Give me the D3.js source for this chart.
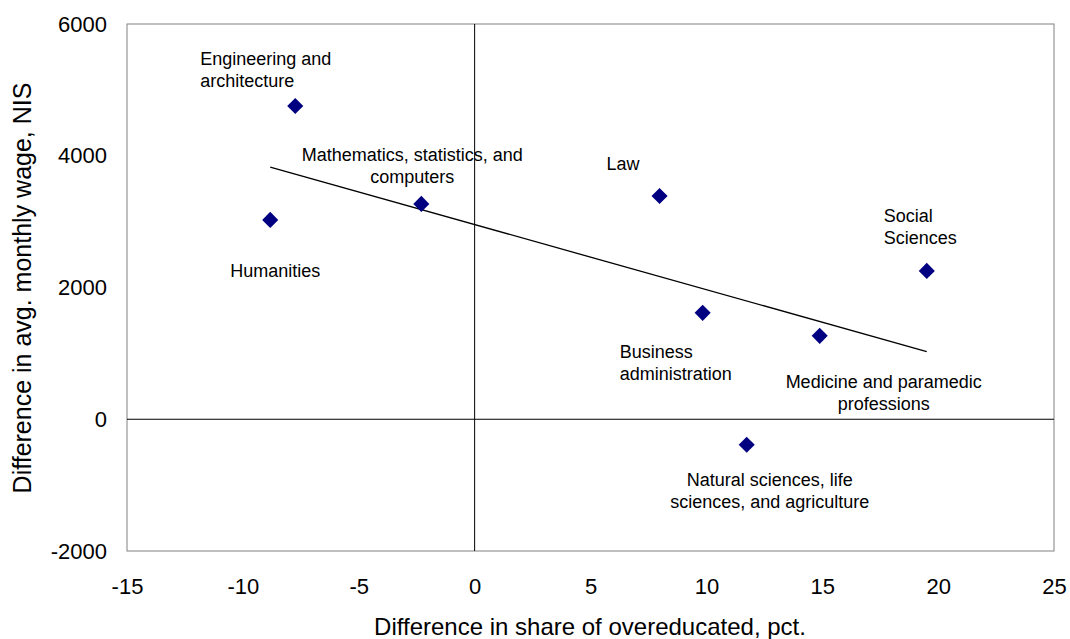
<!DOCTYPE html>
<html>
<head>
<meta charset="utf-8">
<script src="https://cdn.jsdelivr.net/npm/d3@7"></script>
<style>
    body { margin: 0; background: #fff; }
    text { font-family: "Liberation Sans", Arial, sans-serif; fill: #000; }
</style>
</head>
<body>
<div id="chart"></div>
<script>
// Fields of study
const fields = [
    "Engineering and|architecture",
    "Humanities",
    "Mathematics, statistics, and|computers",
    "Law",
    "Business|administration",
    "Medicine and paramedic|professions",
    "Social|Sciences",
    "Natural sciences, life|sciences, and agriculture"
];
// Difference in share of overeducated, pct.
const overeducated = [-7.74, -8.82, -2.30, 7.98, 9.84, 14.89, 19.51, 11.74];
// Difference in avg. monthly wage, NIS
const wageDiff = [4756, 3026, 3269, 3390, 1615, 1266, 2252, -388];

const xTicks = [-15, -10, -5, 0, 5, 10, 15, 20, 25];
const yTicks = [-2000, 0, 2000, 4000, 6000];

// label placement relative to the point: [dx, dy, anchor]
const labelPos = [
    [-95, -47, "start"],
    [5, 51, "middle"],
    [-9, -49, "middle"],
    [-53, -32, "start"],
    [-83, 39, "start"],
    [64, 46, "middle"],
    [-43, -55, "start"],
    [23, 35, "middle"]
];

const W = 1070, H = 639;
const margin = {top: 24, right: 16, bottom: 88, left: 127};
const width = W - margin.left - margin.right;
const height = H - margin.top - margin.bottom;

const svg = d3.select("#chart").append("svg")
    .attr("width", W)
    .attr("height", H);
const g = svg.append("g")
    .attr("transform", `translate(${margin.left},${margin.top})`);

const x = d3.scaleLinear().domain([-15, 25]).range([0, width]);
const y = d3.scaleLinear().domain([-2000, 6000]).range([height, 0]);

// frame
g.append("rect")
    .attr("width", width)
    .attr("height", height)
    .attr("fill", "none")
    .attr("stroke", "#808080")
    .attr("stroke-width", 1);

// zero lines
g.append("line")
    .attr("x1", x(0)).attr("x2", x(0))
    .attr("y1", 0).attr("y2", height)
    .attr("stroke", "#000").attr("stroke-width", 1);
g.append("line")
    .attr("x1", 0).attr("x2", width)
    .attr("y1", y(0)).attr("y2", y(0))
    .attr("stroke", "#000").attr("stroke-width", 1);

// axes (labels only, no tick marks)
const fmt = d => String(d);
const xAxis = d3.axisBottom(x).tickValues(xTicks).tickFormat(fmt).tickSize(0).tickPadding(27);
const yAxis = d3.axisLeft(y).tickValues(yTicks).tickFormat(fmt).tickSize(0).tickPadding(20);
g.append("g")
    .attr("transform", `translate(0,${height})`)
    .call(xAxis)
    .call(a => a.select(".domain").remove())
    .selectAll("text").style("font-size", "22px").attr("font-family", null);
g.append("g")
    .call(yAxis)
    .call(a => a.select(".domain").remove())
    .selectAll("text").style("font-size", "22px").attr("font-family", null);

// axis titles
svg.append("text")
    .attr("x", 590)
    .attr("y", 635)
    .attr("text-anchor", "middle")
    .style("font-size", "24px")
    .text("Difference in share of overeducated, pct.");
svg.append("text")
    .attr("transform", `translate(31,288) rotate(-90)`)
    .attr("text-anchor", "middle")
    .style("font-size", "25px")
    .text("Difference in avg. monthly wage, NIS");

// linear trend (least squares)
const n = overeducated.length;
const mx = d3.mean(overeducated), my = d3.mean(wageDiff);
let sxy = 0, sxx = 0;
for (let i = 0; i < n; i++) {
    sxy += (overeducated[i] - mx) * (wageDiff[i] - my);
    sxx += (overeducated[i] - mx) ** 2;
}
const slope = sxy / sxx, intercept = my - slope * mx;
const [xMin, xMax] = d3.extent(overeducated);
g.append("line")
    .attr("x1", x(xMin)).attr("y1", y(intercept + slope * xMin))
    .attr("x2", x(xMax)).attr("y2", y(intercept + slope * xMax))
    .attr("stroke", "#000").attr("stroke-width", 1.3);

// points
const points = fields.map((f, i) => ({field: f, x: overeducated[i], y: wageDiff[i], pos: labelPos[i]}));
g.selectAll(".pt")
    .data(points)
    .enter()
    .append("path")
    .attr("class", "pt")
    .attr("d", d3.symbol(d3.symbolDiamond2, 165))
    .attr("transform", d => `translate(${x(d.x)},${y(d.y)})`)
    .attr("fill", "#000080");

// labels
const labels = g.selectAll(".lbl")
    .data(points)
    .enter()
    .append("text")
    .attr("class", "lbl")
    .attr("text-anchor", d => d.pos[2])
    .style("font-size", "18px");
labels.each(function(d) {
    const lines = d.field.split("|");
    const t = d3.select(this);
    lines.forEach((ln, k) => {
        t.append("tspan")
            .attr("x", x(d.x) + d.pos[0])
            .attr("y", y(d.y) + d.pos[1] + k * 22 + 6)
            .text(ln);
    });
});
</script>
</body>
</html>
